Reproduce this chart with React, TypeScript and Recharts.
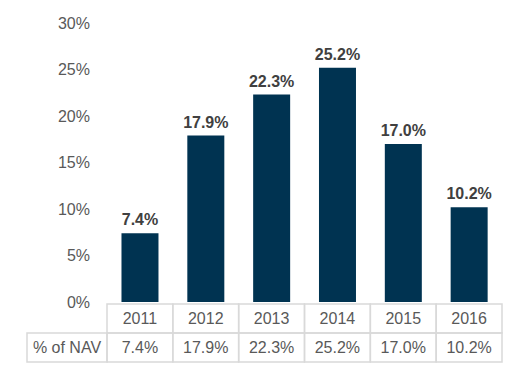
import React from 'react';
import { BarChart, Bar, XAxis, YAxis, LabelList } from 'recharts';

const years = ['2011', '2012', '2013', '2014', '2015', '2016'];
const navShare = [7.4, 17.9, 22.3, 25.2, 17.0, 10.2];
const yTicks = [0, 5, 10, 15, 20, 25, 30];
const rowLabel = '% of NAV';

const FONT = '"Liberation Sans", Arial, sans-serif';
const BORDER = '#D9D9D9';
const TEXT = '#595959';

const data = years.map((y, i) => ({ year: y, value: navShare[i] }));

const fmt = (v: any) => `${Number(v).toFixed(1)}%`;

// x-axis tick draws one column of the data table (year row + value row)
function TableTick(props: any) {
    const { x, y, payload, index } = props;
    const half = payload?.offset || 33;
    const w = half * 2;
    const left = x - half;
    const top = y + 2;
    const rowH = 29;
    return (
        <g>
            <rect x={left} y={top} width={w} height={rowH} fill="none" stroke={BORDER} strokeWidth={1.5} />
            <rect x={left} y={top + rowH} width={w} height={rowH} fill="none" stroke={BORDER} strokeWidth={1.5} />
            <text x={x} y={top + rowH / 2} textAnchor="middle" dominantBaseline="central" fill={TEXT} fontSize={16} fontFamily={FONT}>
                {payload.value}
            </text>
            <text x={x} y={top + rowH * 1.5} textAnchor="middle" dominantBaseline="central" fill={TEXT} fontSize={16} fontFamily={FONT}>
                {fmt(navShare[index])}
            </text>
            {index === 0 && (
                <g>
                    <rect x={left - 80} y={top + rowH} width={80} height={rowH} fill="none" stroke={BORDER} strokeWidth={1.5} />
                    <text x={left - 40} y={top + rowH * 1.5} textAnchor="middle" dominantBaseline="central" fill={TEXT} fontSize={16} fontFamily={FONT}>
                        {rowLabel}
                    </text>
                </g>
            )}
        </g>
    );
}

export default function App() {
    return (
        <div style={{ position: 'absolute', left: 0, top: 0, width: 518, height: 373, background: '#fff' }}>
            <BarChart width={518} height={373} data={data} margin={{ top: 23, right: 16, left: 0, bottom: 0 }} barCategoryGap="22%">
                <XAxis
                    dataKey="year"
                    height={71}
                    axisLine={false}
                    tickLine={false}
                    tickSize={0}
                    tickMargin={0}
                    interval={0}
                    tick={<TableTick />}
                />
                <YAxis
                    width={107}
                    domain={[0, 30]}
                    ticks={yTicks}
                    axisLine={false}
                    tickLine={false}
                    tickSize={0}
                    tickMargin={17}
                    tickFormatter={(v: number) => `${v}%`}
                    tick={{ fill: TEXT, fontSize: 16, fontFamily: FONT }}
                />
                <Bar dataKey="value" fill="#003351" isAnimationActive={false}>
                    <LabelList
                        dataKey="value"
                        position="top"
                        offset={8}
                        formatter={fmt}
                        style={{ fill: '#404040', fontSize: 16, fontWeight: 'bold', fontFamily: FONT }}
                    />
                </Bar>
            </BarChart>
        </div>
    );
}
